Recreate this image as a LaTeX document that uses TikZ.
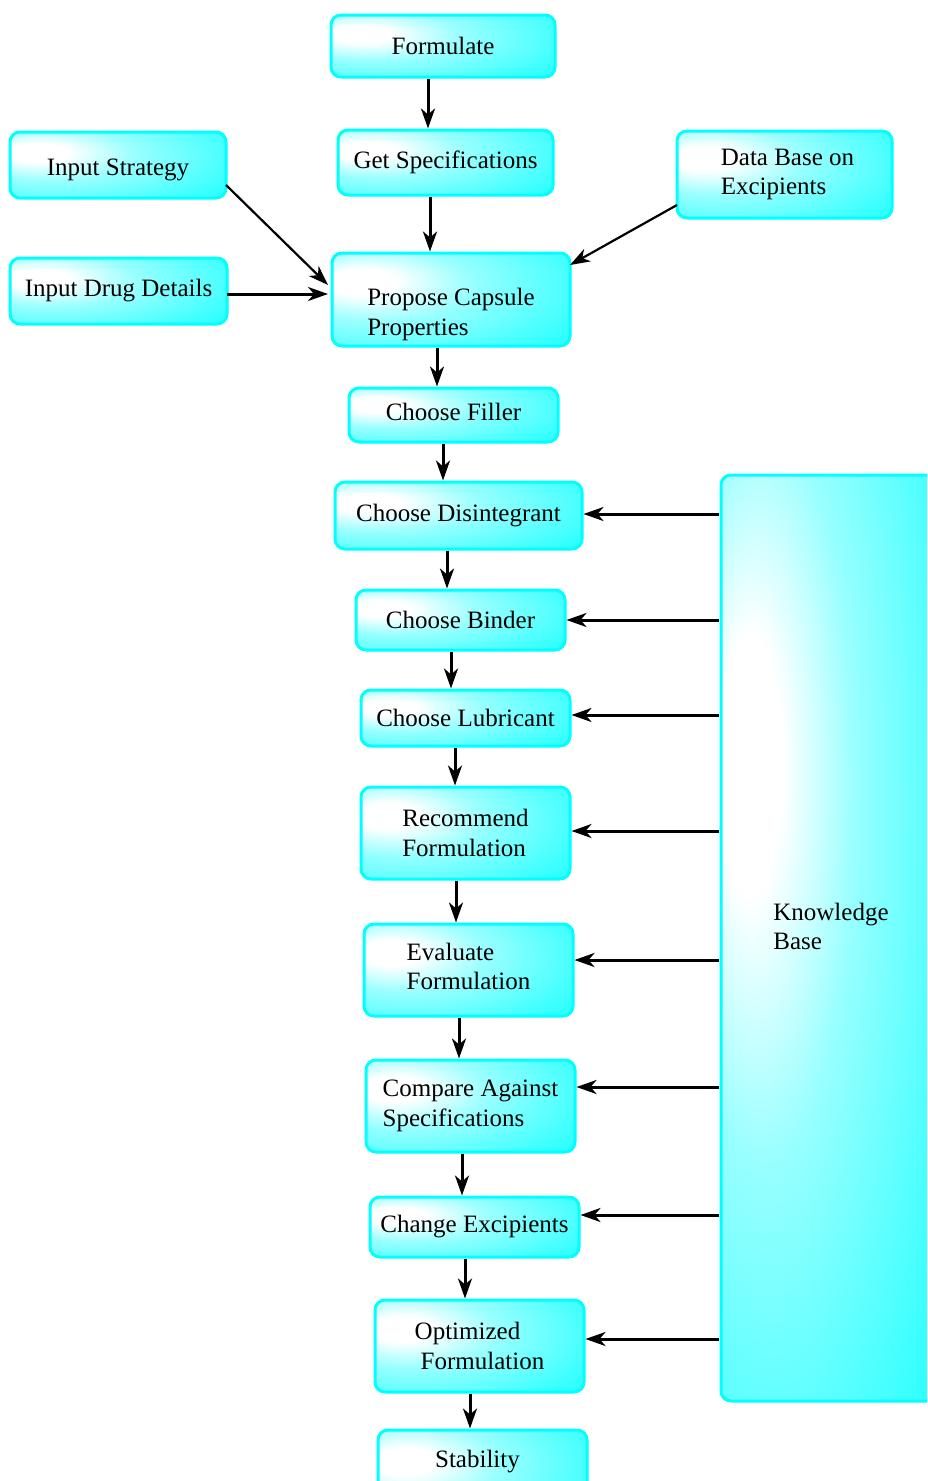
\documentclass[tikz,border=0pt]{standalone}
\usepackage{fontspec}
\setmainfont{Liberation Serif}
\usetikzlibrary{arrows.meta}
\definecolor{cy}{RGB}{0,255,255}
\pgfdeclareradialshading{glow}{\pgfpoint{-20bp}{10bp}}{color(0bp)=(white); color(7bp)=(white); color(20bp)=(cy!40); color(38bp)=(cy!72); color(55bp)=(cy); color(100bp)=(cy)}
\tikzset{
  box/.style={rounded corners=10pt, draw=cy, line width=3pt, shading=glow, inner sep=0pt, align=left, font=\fontsize{25}{29.5}\selectfont},
  arr/.style={line width=3pt, -{Stealth[length=20pt,width=14pt,inset=6pt]}},
  thinarr/.style={line width=2.2pt, -{Stealth[length=20pt,width=14pt,inset=6pt]}}
}
\begin{document}
\begin{tikzpicture}[x=1pt,y=-1pt]
\clip (0,0) rectangle (927,1481);
\fill[white] (0,0) rectangle (927,1481);
% boxes
\node[box, minimum width=224pt, minimum height=62pt] (formulate) at (443,46) {Formulate};
\node[box, minimum width=215pt, minimum height=65pt] (getspec) at (445.5,162.5) {Get Specifications\rule[-6pt]{0pt}{0pt}};
\node[box, minimum width=216pt, minimum height=66pt] (strategy) at (118,165) {Input Strategy\rule{0pt}{26pt}};
\node[box, minimum width=215pt, minimum height=87pt] (database) at (784.5,174.5) {\hspace{6pt}Data Base on\\\hspace{6pt}Excipients};
\node[box, minimum width=217pt, minimum height=66pt] (drug) at (118.5,291) {Input Drug Details};
\node[box, minimum width=238pt, minimum height=93pt] (propose) at (451,299.5) {\rule{0pt}{47pt}Propose Capsule\\Properties};
\node[box, minimum width=209pt, minimum height=54pt] (filler) at (453.5,415) {Choose Filler\rule[-6pt]{0pt}{0pt}};
\node[box, minimum width=247pt, minimum height=67pt] (disint) at (458.5,515.5) {Choose Disintegrant};
\node[box, minimum width=209pt, minimum height=60pt] (binder) at (460.5,620) {Choose Binder};
\node[box, minimum width=209pt, minimum height=56pt] (lubric) at (465.5,718) {Choose Lubricant};
\node[box, minimum width=209pt, minimum height=92pt] (recommend) at (465.5,833) {Recommend\\Formulation};
\node[box, minimum width=209pt, minimum height=92pt] (evaluate) at (468.5,970) {Evaluate\\Formulation\rule[-7pt]{0pt}{0pt}};
\node[box, minimum width=209pt, minimum height=92pt] (compare) at (470.5,1106) {Compare Against\\Specifications};
\node[box, minimum width=209pt, minimum height=60pt] (change) at (474.5,1227) {Change Excipients};
\node[box, minimum width=209pt, minimum height=92pt] (optimized) at (479.5,1346) {Optimized\\\hspace{6pt}Formulation};
\node[box, minimum width=209pt, minimum height=100pt] (stability) at (482.5,1480) {\hspace{-10pt}\raisebox{42pt}{Stability}};
\node[box, minimum width=230pt, minimum height=926pt] (knowledge) at (836,938) {\hspace{-10pt}Knowledge\\\hspace{-10pt}Base\rule[-23pt]{0pt}{23pt}};
% vertical chain
\coordinate (v1) at (428,0);
\coordinate (v2) at (430,0);
\coordinate (v3) at (437,0);
\coordinate (v4) at (443,0);
\coordinate (v5) at (447,0);
\coordinate (v6) at (451,0);
\coordinate (v7) at (455,0);
\coordinate (v8) at (456,0);
\coordinate (v9) at (459,0);
\coordinate (v10) at (462,0);
\coordinate (v11) at (465,0);
\coordinate (v12) at (470,0);
\draw[arr] (formulate.south -| v1) -- (getspec.north -| v1);
\draw[arr] (getspec.south -| v2) -- (propose.north -| v2);
\draw[arr] (propose.south -| v3) -- (filler.north -| v3);
\draw[arr] (filler.south -| v4) -- (disint.north -| v4);
\draw[arr] (disint.south -| v5) -- (binder.north -| v5);
\draw[arr] (binder.south -| v6) -- (lubric.north -| v6);
\draw[arr] (lubric.south -| v7) -- (recommend.north -| v7);
\draw[arr] (recommend.south -| v8) -- (evaluate.north -| v8);
\draw[arr] (evaluate.south -| v9) -- (compare.north -| v9);
\draw[arr] (compare.south -| v10) -- (change.north -| v10);
\draw[arr] (change.south -| v11) -- (optimized.north -| v11);
\draw[arr] (optimized.south -| v12) -- (stability.north -| v12);
% inputs
\coordinate (s1) at (226,185);
\coordinate (e1) at (328,285);
\draw[thinarr] (s1) -- (e1);
\coordinate (s2) at (227,294);
\coordinate (e2) at (328,294);
\draw[arr] (s2) -- (e2);
\coordinate (s3) at (677,205);
\coordinate (e3) at (570,265);
\draw[thinarr] (s3) -- (e3);
% knowledge base arrows
\coordinate (k1) at (719,514);
\coordinate (k2) at (719,620);
\coordinate (k3) at (719,715);
\coordinate (k4) at (719,831);
\coordinate (k5) at (719,960);
\coordinate (k6) at (719,1087);
\coordinate (k7) at (719,1215);
\coordinate (k8) at (719,1339);
\draw[arr] (k1) -- (k1 -| disint.east);
\draw[arr] (k2) -- (k2 -| binder.east);
\draw[arr] (k3) -- (k3 -| lubric.east);
\draw[arr] (k4) -- (k4 -| recommend.east);
\draw[arr] (k5) -- (k5 -| evaluate.east);
\draw[arr] (k6) -- (k6 -| compare.east);
\draw[arr] (k7) -- (k7 -| change.east);
\draw[arr] (k8) -- (k8 -| optimized.east);
\end{tikzpicture}
\end{document}
